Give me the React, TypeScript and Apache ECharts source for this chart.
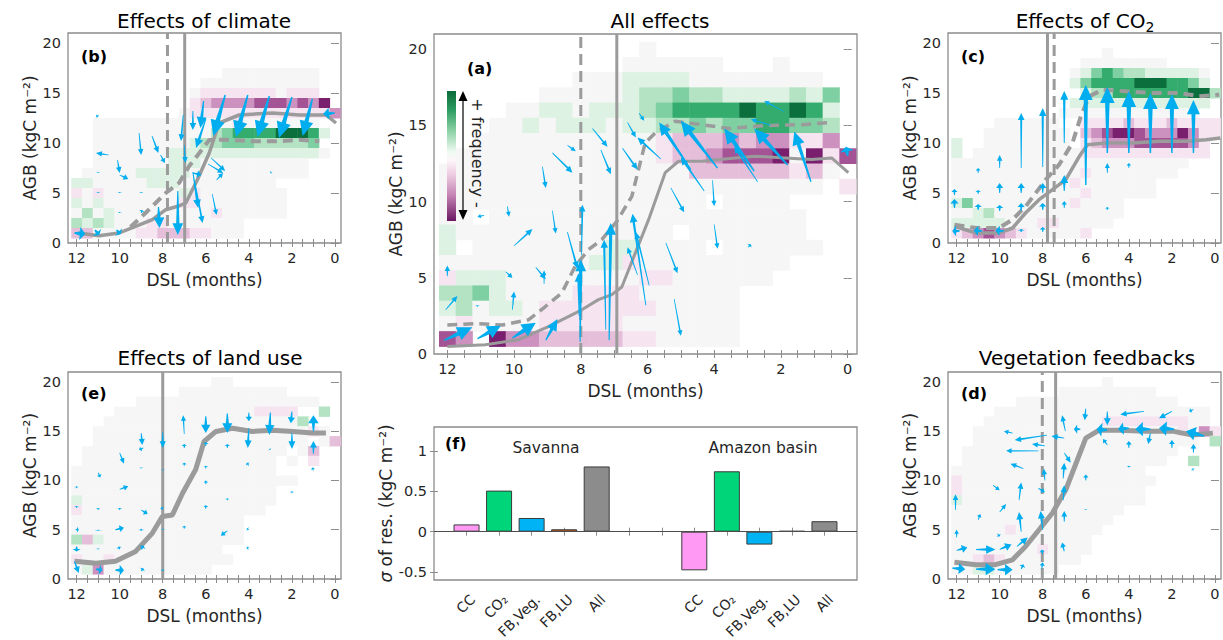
import React, { useEffect, useRef } from 'react';
import * as echarts from 'echarts';

// ---------------- DATA ----------------
// Heat grids: rows from AGB=20 (top) down to AGB=1; columns from DSL=12 (left) to DSL=0 (right) in 0.5 steps.
// '.' = no data, '0' = ~zero, '1'..'5' = + frequency (green), 'a'..'e' = - frequency (purple)
const HEAT_A = [
  '............0............',
  '...........000000...0....',
  '........000111100000000..',
  '......000001223221111213.',
  '....00110111234444544541.',
  '...001011101122323344332.',
  '..00000000000abbbcbccaac.',
  '.000000000000abbcddde0ead',
  '000000000000000bbbbbbab0.',
  '00000000000000000000000.a',
  '0000000000000000.0000....',
  '00.0000000000000000000...',
  '10000000000000.0000000...',
  '1.00000000110000.000000..',
  '00000000011a000000000....',
  'a11100000000aa000000.....',
  '22310000aaaa000000.......',
  '120110aaaaaaa00000.......',
  '0a0000aaaaa0000000.......',
  'dc.eccbbbbbaa00000.......',
];
const HEAT_B = [
  '.........................',
  '.........................',
  '.........................',
  '..............000000000..',
  '............00000000000..',
  '...........0aaaaaaa0aaa..',
  '...........abccccdddcdce.',
  '..........0aaaaaaaaaaaaac',
  '..0000000000000a0000000..',
  '..0000000000023444455541.',
  '..000000000122333222223..',
  '..0000000111111111111110.',
  '..00000001110000000000...',
  '.000001111100000000000...',
  '1100000111000000000......',
  'a0a00000001a00000000.....',
  '1010000000aa00000000.....',
  '0201000000000a000000.....',
  '2121000aa0000000.........',
  'bb0000aabbbaa000.........',
];
const HEAT_C = [
  '.........................',
  '..............0..........',
  '............00000000.....',
  '...........0134322111110.',
  '...........1344445554431.',
  '............1224444444552',
  '...........1111111111111.',
  '..........0000000000000..',
  '....000000..aaaabaaabaaaa',
  '...00000000.bcdeedcccecaa',
  '1..00000000.abcccdddddca.',
  '1.0000000000aaaaaaaaaaaa.',
  '0000000000000000000000...',
  '000000000000a00000000....',
  '00000000000a0000000......',
  '000000000000a000000......',
  '13000000000a0000.........',
  '0012000000000000.........',
  '11111000aa00000..........',
  'abcdcba00000a............',
];
const HEAT_E = [
  '.............00..........',
  '..........0000000000.....',
  '......00000000000000000..',
  '....0000000000000aaaa..2.',
  '...0000000000000000002...',
  '..00000000000000000000a0.',
  '..00000000000000000000.0b',
  '.0000000000000000000.0b..',
  '.000000000000000000.0.a..',
  '0000000000000000000......',
  '000000000000000000000....',
  '0000000000000000000......',
  '1000000000000000000......',
  'a00000000000000000.......',
  '0000000000000000.........',
  '0000000000000000.........',
  '2b10000000000000.........',
  '00000000000000...........',
  'a00a00000000000..........',
  '01c0000000000............',
];
const HEAT_D = [
  '..............0..........',
  '..........000000000......',
  '......000000000000000....',
  '....00000000000000000000.',
  '...00000000000aaaaaaaa00.',
  '..0000000000000000000a0ca',
  '..000000000000000000000.2',
  '.00000000000000000000....',
  '.0000000000000000000..2..',
  '000000000000000000.......',
  'a000000000000000000......',
  'a00000000000000000.......',
  '100000000000000000.......',
  '0000000000000000.........',
  '000000000000000..........',
  '00000a00000000...........',
  '0000000000000............',
  '00000000a0000............',
  '00aba0000000.............',
  '0011000000...............',
];

// Arrows: [DSL tail, AGB tail, DSL head, AGB head, thickness]
const ARROWS_A = [
  [12.1, 0.9, 11.25, 1.75, 3], [11.1, 1.0, 10.4, 1.85, 3], [10.05, 1.05, 9.35, 2.05, 3], [9.05, 0.9, 8.7, 2.3, 2.2],
  [8.02, 0.8, 8.0, 6.2, 2.2], [8.05, 2.5, 8.07, 5.3, 1.4], [7.98, 6.5, 7.95, 9.8, 1.0],
  [7.15, 0.9, 7.1, 8.6, 2.2], [7.25, 1.6, 7.3, 7.5, 1.3],
  [6.05, 3.2, 6.45, 9.2, 1.4], [5.95, 4.5, 6.35, 8.0, 1.0], [6.3, 5.2, 6.6, 7.0, 0.8],
  [5.45, 7.3, 5.1, 5.3, 0.8], [5.2, 3.6, 5.0, 1.2, 0.7], [5.3, 10.9, 4.9, 9.3, 0.8],
  [4.0, 8.5, 3.9, 6.9, 0.7], [4.05, 11.4, 4.0, 9.7, 0.7], [2.98, 7.0, 2.9, 7.2, 0.8],
  [8.85, 13.2, 8.25, 11.9, 1.0], [8.4, 13.7, 8.15, 13.3, 0.6], [9.15, 12.3, 9.05, 10.9, 0.8],
  [7.65, 14.8, 7.2, 13.6, 0.9], [7.4, 13.4, 7.1, 11.8, 0.9], [6.75, 13.5, 6.3, 12.1, 1.0],
  [6.6, 15.2, 6.35, 14.2, 0.8], [6.25, 15.8, 6.1, 15.3, 0.6],
  [4.7, 12.1, 5.65, 15.2, 2.4], [3.9, 12.2, 5.0, 15.3, 3.0], [2.8, 12.0, 3.7, 14.8, 3.0],
  [1.8, 12.4, 2.8, 14.8, 3.0], [1.1, 11.3, 1.6, 14.6, 2.6], [4.3, 10.7, 5.0, 12.9, 1.2],
  [5.6, 12.8, 6.3, 14.2, 1.2], [2.7, 11.3, 3.4, 13.6, 1.0], [1.9, 15.9, 2.5, 16.6, 0.6],
  [2.3, 15.0, 2.9, 15.4, 0.7], [0.0, 13.0, 0.05, 13.6, 3],
  [12.0, 5.1, 12.0, 5.8, 0.8], [12.05, 2.9, 11.7, 3.8, 0.8], [11.1, 3.1, 11.1, 3.2, 0.8],
  [10.0, 7.1, 9.45, 8.2, 1.0], [10.25, 5.4, 10.05, 5.0, 0.8], [10.05, 2.9, 10.0, 4.1, 0.8],
  [9.35, 5.7, 9.05, 4.9, 0.9], [9.1, 4.6, 9.1, 5.5, 0.6], [8.85, 9.4, 8.75, 7.9, 0.7],
  [8.4, 8.0, 8.1, 5.6, 1.1], [10.9, 9.1, 11.1, 9.0, 0.5], [10.2, 9.7, 10.15, 9.0, 0.6],
];
const ARROWS_B = [
  [5.1, 14.8, 5.65, 10.7, 3.2], [4.05, 14.8, 4.6, 10.6, 3.2], [3.05, 14.7, 3.6, 10.6, 3.2],
  [2.0, 14.6, 2.6, 10.5, 3.2], [1.05, 14.4, 1.5, 10.7, 3.0], [0.0, 13.0, 0.55, 12.9, 2.4],
  [6.1, 14.2, 6.25, 11.5, 2.0], [6.0, 12.4, 6.45, 9.5, 1.6], [6.6, 13.2, 6.6, 11.3, 1.1],
  [7.05, 12.8, 7.15, 10.2, 1.0], [7.0, 9.8, 6.95, 8.0, 0.8], [6.6, 7.1, 6.35, 3.5, 1.4],
  [6.5, 6.0, 6.15, 2.0, 1.0], [5.75, 8.5, 5.1, 7.2, 0.8], [5.5, 6.3, 5.2, 7.0, 0.7],
  [5.7, 4.9, 5.5, 2.8, 0.7], [3.0, 7.0, 2.95, 7.1, 0.6], [6.6, 7.0, 6.2, 6.8, 1.2],
  [5.9, 7.9, 5.2, 7.0, 0.7],
  [12.1, 1.0, 11.6, 0.9, 2.8], [11.15, 1.3, 10.95, 0.8, 2.2], [10.15, 1.3, 9.95, 0.9, 2.0],
  [8.2, 3.6, 8.15, 1.5, 2.2], [7.3, 5.2, 7.3, 0.8, 2.2],
  [10.5, 8.8, 11.1, 9.0, 0.8], [10.1, 8.3, 10.0, 7.0, 0.8], [10.0, 6.8, 9.6, 6.4, 0.9],
  [9.1, 11.0, 9.0, 8.8, 0.8], [8.5, 10.7, 8.2, 9.0, 0.9], [8.1, 8.8, 7.9, 8.0, 0.8],
  [11.0, 5.0, 11.0, 5.1, 0.9], [10.0, 5.0, 10.0, 5.1, 0.9], [9.0, 5.0, 9.0, 5.1, 0.9],
  [10.0, 3.0, 10.0, 3.1, 0.8], [9.0, 3.0, 8.95, 3.3, 0.9], [11.0, 7.0, 11.0, 7.1, 0.6],
  [11.1, 12.8, 11.0, 12.6, 0.6],
];
const ARROWS_C = [
  [12.1, 3.5, 12.1, 4.4, 1.6], [12.1, 4.8, 12.1, 5.4, 1.0], [11.85, 1.2, 12.2, 1.2, 2.2],
  [11.0, 3.3, 11.0, 3.9, 1.3], [11.0, 4.9, 11.0, 5.3, 0.8], [11.0, 7.0, 11.0, 7.5, 0.7], [10.8, 1.2, 11.2, 1.25, 2.2],
  [10.0, 3.2, 10.0, 3.8, 1.3], [10.0, 5.0, 10.0, 6.0, 1.2], [10.0, 7.5, 10.0, 8.8, 0.8], [9.8, 1.2, 10.2, 1.25, 2.0],
  [9.0, 1.1, 9.0, 1.4, 1.2], [9.0, 3.2, 9.0, 4.0, 1.3], [9.0, 5.0, 9.0, 6.0, 1.3], [9.0, 7.5, 9.0, 13.0, 1.1],
  [8.0, 1.1, 8.0, 1.6, 1.0], [8.0, 3.3, 8.0, 4.0, 1.3], [8.0, 5.0, 8.0, 6.0, 1.3], [8.0, 7.6, 8.0, 13.5, 1.3],
  [7.0, 3.5, 7.0, 4.2, 0.8], [7.0, 5.2, 7.0, 6.8, 1.5], [7.0, 10.0, 7.0, 15.2, 1.5],
  [6.0, 5.8, 6.0, 15.8, 3.0],
  [5.0, 3.3, 5.0, 3.6, 0.6], [5.0, 9.0, 5.0, 15.6, 3.2], [5.0, 7.0, 5.0, 8.0, 0.7],
  [4.0, 7.5, 4.0, 8.0, 0.6], [4.0, 9.0, 4.0, 15.2, 3.2],
  [3.0, 9.0, 3.0, 15.0, 3.2], [2.0, 9.0, 2.0, 14.9, 3.0], [1.0, 9.0, 1.0, 14.3, 2.8],
];
const ARROWS_E = [
  [8.0, 14.9, 8.0, 13.3, 1.0], [7.0, 14.7, 7.05, 16.6, 0.7], [6.0, 16.5, 6.0, 14.8, 1.8],
  [5.0, 16.8, 5.0, 14.8, 2.0], [4.0, 16.9, 4.0, 16.0, 1.0], [4.0, 15.3, 4.05, 13.3, 1.2],
  [3.0, 16.9, 3.05, 14.6, 1.8], [2.0, 17.0, 2.05, 15.8, 1.3], [2.0, 14.8, 2.0, 13.2, 1.2],
  [1.0, 15.0, 1.0, 16.6, 2.2], [1.0, 12.7, 1.0, 14.0, 1.2], [1.0, 11.0, 1.05, 11.3, 0.6],
  [2.0, 8.7, 2.0, 8.9, 0.5],
  [9.0, 14.8, 8.95, 13.6, 1.0], [8.9, 13.3, 9.1, 13.1, 0.8], [10.0, 12.8, 9.8, 11.7, 0.7],
  [11.0, 10.8, 10.9, 10.3, 0.6], [9.0, 11.2, 9.0, 11.3, 0.7], [8.0, 11.0, 8.0, 11.1, 0.6],
  [7.0, 13.3, 7.0, 13.7, 0.8], [7.0, 11.5, 7.0, 11.8, 0.7], [6.0, 13.5, 6.0, 13.9, 0.8],
  [6.0, 11.2, 6.0, 11.5, 0.6], [5.0, 13.3, 5.0, 13.7, 0.8], [4.0, 11.5, 4.1, 11.8, 0.6],
  [3.0, 13.1, 3.05, 13.2, 0.6], [6.0, 9.6, 6.0, 10.0, 0.6], [5.0, 8.0, 5.0, 8.2, 0.5],
  [10.0, 9.1, 9.6, 9.4, 0.8], [9.0, 7.0, 8.7, 6.6, 0.9], [10.0, 7.0, 10.0, 7.2, 0.8],
  [11.0, 7.0, 11.0, 7.2, 0.6], [12.0, 7.2, 12.0, 7.4, 0.6], [12.0, 9.2, 12.0, 9.4, 0.5],
  [8.0, 7.0, 8.05, 7.3, 0.6], [7.0, 5.1, 7.0, 5.4, 0.6], [6.0, 7.1, 6.0, 7.5, 0.6],
  [5.0, 4.9, 5.3, 4.4, 0.8], [4.0, 5.0, 4.1, 5.1, 0.6], [4.0, 3.2, 4.1, 3.1, 0.6],
  [12.05, 5.0, 11.9, 5.0, 1.0], [11.0, 5.0, 11.0, 4.9, 1.8], [10.2, 5.0, 9.8, 5.2, 1.2],
  [9.0, 5.1, 9.0, 4.9, 1.0], [8.0, 5.0, 8.0, 5.1, 0.8], [12.0, 3.3, 12.0, 2.8, 1.5],
  [11.0, 3.0, 11.0, 3.1, 0.7], [10.0, 3.0, 10.05, 3.3, 0.8], [9.0, 3.0, 8.9, 3.4, 1.2],
  [12.1, 1.8, 11.9, 0.6, 1.0], [11.1, 1.0, 10.8, 0.9, 2.0], [10.2, 0.9, 9.8, 0.9, 2.2],
  [9.0, 0.8, 8.9, 1.1, 1.0], [8.0, 0.8, 8.0, 1.0, 0.6],
];
const ARROWS_D = [
  [12.2, 1.1, 11.6, 1.0, 2.2], [11.1, 1.0, 10.2, 1.0, 2.6], [10.1, 0.95, 9.4, 0.95, 2.4],
  [9.0, 1.0, 8.9, 1.5, 1.0], [12.0, 2.9, 11.5, 3.2, 1.5], [11.1, 3.0, 10.2, 3.0, 1.6],
  [10.0, 3.0, 9.45, 3.5, 1.5], [9.2, 3.3, 8.7, 4.2, 1.2], [12.0, 4.2, 12.0, 5.0, 0.6],
  [12.05, 7.0, 12.05, 8.6, 0.8], [11.0, 6.0, 10.9, 6.6, 0.6], [10.1, 4.6, 10.0, 4.3, 0.7],
  [10.0, 6.8, 9.7, 7.6, 0.6], [9.0, 4.8, 9.1, 6.8, 1.2], [9.1, 8.0, 9.0, 9.8, 0.9],
  [8.0, 5.0, 8.1, 6.9, 1.2], [8.2, 9.2, 7.9, 8.8, 0.8], [8.05, 1.0, 8.0, 1.7, 0.7],
  [8.0, 2.5, 8.05, 3.0, 0.8], [7.9, 10.0, 7.95, 11.2, 0.8], [7.0, 2.8, 7.1, 3.7, 0.9],
  [7.0, 5.8, 7.0, 6.9, 0.9], [7.05, 8.0, 7.0, 9.5, 1.0], [7.05, 10.2, 7.0, 11.8, 1.0],
  [7.0, 12.8, 6.7, 11.8, 0.8], [6.0, 10.0, 6.0, 10.6, 0.8], [6.0, 7.0, 6.0, 7.1, 0.5],
  [7.8, 14.6, 9.3, 14.1, 0.9], [9.4, 14.8, 9.8, 15.0, 0.6], [8.2, 13.0, 9.7, 13.0, 0.7],
  [7.9, 13.5, 8.5, 13.7, 0.8], [8.9, 11.2, 9.5, 11.7, 0.8], [10.3, 9.5, 10.0, 9.0, 0.6],
  [7.0, 14.3, 7.6, 14.5, 0.9], [6.95, 15.0, 7.1, 16.6, 0.8], [6.0, 17.3, 6.05, 16.1, 0.9],
  [6.25, 15.2, 6.55, 15.2, 1.8],
  [0.5, 14.5, 1.35, 15.0, 3.0], [1.9, 15.2, 2.6, 15.3, 3.1], [3.0, 15.2, 3.7, 15.2, 3.1],
  [4.0, 15.3, 4.5, 15.2, 2.6], [5.0, 15.1, 5.5, 15.2, 3.0], [5.0, 17.0, 5.0, 15.6, 1.2],
  [3.3, 17.0, 4.4, 16.7, 0.9], [2.0, 17.0, 2.6, 16.3, 0.9], [1.0, 17.2, 1.2, 17.0, 0.6],
  [5.0, 13.6, 5.2, 14.2, 0.7], [4.0, 13.3, 4.0, 14.0, 0.9], [3.0, 14.8, 3.1, 13.7, 0.9],
  [2.0, 13.3, 2.0, 14.1, 0.9], [1.0, 12.8, 1.0, 13.7, 0.9], [4.0, 11.3, 4.0, 11.5, 0.6],
  [1.0, 11.0, 1.05, 11.2, 0.5],
];

// Mean AGB curves: [DSL, AGB]
const A_SOLID = [[12, 0.5], [10.86, 0.6], [9.86, 0.94], [8.97, 1.8], [7.97, 2.9], [7.47, 3.57], [7.07, 3.9], [6.77, 4.4], [6.37, 6.6], [5.97, 8.8], [5.47, 11.9], [5.07, 12.65], [4.37, 12.65], [3.37, 12.87], [2.78, 12.98], [1.88, 12.87], [1.08, 12.76], [0.48, 12.87], [-0.02, 11.9]];
const A_DASHED = [[12, 1.9], [11.16, 2.0], [10.36, 1.9], [9.56, 2.25], [9.07, 3.1], [8.57, 4.0], [8.17, 5.75], [7.77, 6.85], [7.37, 7.5], [6.92, 8.7], [6.47, 10.35], [6.07, 13.85], [5.77, 14.5], [5.17, 15.27], [4.37, 15.05], [3.57, 14.8], [2.38, 15.0], [1.38, 15.05], [0.48, 15.2]];
const B_SOLID = [[11.9, 1.0], [10.96, 0.73], [10.03, 1.0], [9.26, 1.67], [8.48, 2.33], [7.86, 3.33], [7.3, 3.67], [6.93, 4.0], [6.39, 6.33], [5.84, 9.0], [5.38, 12.0], [4.45, 12.8], [2.9, 13.0], [1.66, 12.8], [0.42, 12.8], [-0.05, 12.0]];
const B_DASHED = [[9.5, 1.6], [8.8, 3.0], [8.33, 4.0], [7.86, 5.0], [7.24, 6.0], [6.78, 7.67], [6.3, 9.0], [5.84, 10.3], [5.07, 10.33], [3.83, 10.17], [2.59, 10.17], [1.66, 10.33], [0.73, 10.17]];
const C_SOLID = [[12.1, 1.67], [11.1, 1.0], [10.03, 1.0], [9.4, 1.5], [8.8, 3.0], [8.17, 4.33], [7.55, 5.33], [6.93, 6.33], [6.3, 8.67], [5.92, 9.83], [5.07, 10.0], [3.83, 10.0], [2.59, 10.17], [1.35, 10.17], [0.42, 10.33], [-0.25, 10.5]];
const C_DASHED = [[12.1, 1.83], [11.1, 1.5], [10.03, 1.5], [9.41, 2.33], [8.79, 3.67], [7.86, 6.33], [7.24, 7.83], [6.62, 10.0], [6.23, 12.67], [5.84, 14.67], [5.22, 15.33], [4.14, 15.17], [2.9, 15.0], [1.66, 15.0], [0.73, 14.67], [-0.2, 14.83]];
const E_SOLID = [[12.1, 1.8], [11.1, 1.6], [10.2, 1.8], [9.26, 2.8], [8.48, 4.66], [8.02, 6.35], [7.55, 6.5], [7.08, 8.7], [6.47, 11.1], [6.08, 13.95], [5.53, 14.97], [4.76, 15.3], [3.83, 14.97], [2.9, 15.1], [1.97, 14.97], [1.04, 14.8], [0.42, 14.8]];
const D_SOLID = [[12.1, 1.7], [11.1, 1.45], [10.2, 1.45], [9.4, 1.95], [8.8, 3.3], [8.17, 5.0], [7.55, 6.7], [6.93, 9.05], [6.39, 12.1], [6.0, 14.3], [5.38, 15.1], [4.45, 15.1], [3.2, 15.0], [1.97, 15.0], [1.04, 14.6], [0.1, 14.8]];

// Vertical reference DSL lines
const A_VLINES = { solid: 6.92, dashed: 8.0 };
const B_VLINES = { solid: 6.98, dashed: 7.78 };
const C_VLINES = { solid: 7.78, dashed: 7.47 };
const E_VLINES = { solid: 8.0, dashed: null as number | null };
const D_VLINES = { solid: 7.4, dashed: 8.02 };

// Panel (f)
const BAR_POS = [1, 2, 3, 4, 5, 8, 9, 10, 11, 12];
const BAR_NAMES = ['CC', 'CO₂', 'FB,Veg.', 'FB,LU', 'All', 'CC', 'CO₂', 'FB,Veg.', 'FB,LU', 'All'];
const BAR_VALUES = [0.09, 0.51, 0.17, 0.03, 0.81, -0.48, 0.75, -0.16, 0.01, 0.13];
const BAR_COLORS = ['#ff99f4', '#00d679', '#00b3f5', '#e2670f', '#8c8c8c'];

// Axis ticks
const X_LABELS = [0, 2, 4, 6, 8, 10, 12];
const X_TICKS = [0, 0.5, 1, 1.5, 2, 2.5, 3, 3.5, 4, 4.5, 5, 5.5, 6, 6.5, 7, 7.5, 8, 8.5, 9, 9.5, 10, 10.5, 11, 11.5, 12];
const Y_TICKS = [0, 5, 10, 15, 20];
const F_X_TICKS = [1, 2, 3, 4, 5, 6, 7, 8, 9, 10, 11, 12];
const F_Y_TICKS = [-0.5, 0, 0.5, 1];

// ---------------- STYLE ----------------
const FONT = 'DejaVu Sans, sans-serif';
const TXT = '#262626';
const AXC = '#8c8c8c';
const LINE_C = '#9b9b9b';
const ARROW_C = '#00adef';
const X_MIN = -0.28, X_MAX = 12.4, Y_MAX = 21;
const F_BOX = [434, 427, 423, 153];
const F_XMAX = 13;

const LEVEL: Record<string, number> = { '0': 0, '1': 1, '2': 2, '3': 3, '4': 4, '5': 5, a: -1, b: -2, c: -3, d: -4, e: -5 };
const HEAT_COLORS: Record<string, string> = {
  '0': '#f6f6f6', '1': '#ddf2e3', '2': '#b4e3c3', '3': '#7ecfa1', '4': '#33ac6d', '5': '#0b6e3d',
  '-1': '#f6e4f0', '-2': '#e5bfda', '-3': '#cc91bf', '-4': '#a45495', '-5': '#7a1e6e',
};

function toCells(rows: string[]) {
  const out: number[][] = [];
  rows.forEach((row, r) => {
    const y = 20 - r;
    for (let c = 0; c < row.length && c < 25; c++) {
      const ch = row[c];
      if (!(ch in LEVEL)) continue;
      out.push([12 - 0.5 * c, y, LEVEL[ch]]);
    }
  });
  return out;
}

const renderHeat = (_p: any, api: any) => {
  const x = api.value(0), y = api.value(1), v = api.value(2);
  const p1 = api.coord([x + 0.25, y + 0.5]);
  const p2 = api.coord([x - 0.25, y - 0.5]);
  return {
    type: 'rect',
    shape: { x: Math.min(p1[0], p2[0]), y: Math.min(p1[1], p2[1]), width: Math.abs(p2[0] - p1[0]) + 0.5, height: Math.abs(p2[1] - p1[1]) + 0.5 },
    style: { fill: HEAT_COLORS[String(v)] || '#fff' },
  };
};

const renderArrow = (_p: any, api: any) => {
  const a = api.coord([api.value(0), api.value(1)]);
  const b = api.coord([api.value(2), api.value(3)]);
  const w = api.value(4);
  const dx = b[0] - a[0], dy = b[1] - a[1];
  const L = Math.max(Math.hypot(dx, dy), 0.001);
  const ux = dx / L, uy = dy / L, nx = -uy, ny = ux;
  const headLen = Math.min(L * 0.5, 4.2 * w + 2.5);
  const headHalf = 1.9 * w + 1.2;
  const s0 = 0.15 * w + 0.25, s1 = 0.6 * w + 0.3;
  const bx = b[0] - ux * headLen, by = b[1] - uy * headLen;
  const pts = [
    [a[0] + nx * s0, a[1] + ny * s0],
    [bx + nx * s1, by + ny * s1],
    [bx + nx * headHalf, by + ny * headHalf],
    [b[0], b[1]],
    [bx - nx * headHalf, by - ny * headHalf],
    [bx - nx * s1, by - ny * s1],
    [a[0] - nx * s0, a[1] - ny * s0],
  ];
  return { type: 'polygon', shape: { points: pts }, style: { fill: ARROW_C } };
};

const PANELS = [
  { box: [434, 34, 423, 320], heat: HEAT_A, arrows: ARROWS_A, solid: A_SOLID, dashed: A_DASHED, v: A_VLINES, lw: 3 },
  { box: [68, 33, 273, 210], heat: HEAT_B, arrows: ARROWS_B, solid: B_SOLID, dashed: B_DASHED, v: B_VLINES, lw: 3.5 },
  { box: [948, 33, 273, 210], heat: HEAT_C, arrows: ARROWS_C, solid: C_SOLID, dashed: C_DASHED, v: C_VLINES, lw: 3.5 },
  { box: [68, 372, 273, 207], heat: HEAT_E, arrows: ARROWS_E, solid: E_SOLID, dashed: null, v: E_VLINES, lw: 5 },
  { box: [948, 372, 273, 207], heat: HEAT_D, arrows: ARROWS_D, solid: D_SOLID, dashed: null, v: D_VLINES, lw: 5 },
];

function tick(values: number[]) {
  return { show: true, inside: true, length: 4, customValues: values, lineStyle: { color: AXC, width: 1 } };
}

function buildOption() {
  const grid: any[] = [], xAxis: any[] = [], yAxis: any[] = [], series: any[] = [];
  const nameStyle = { fontSize: 17, color: TXT, fontFamily: FONT };
  const labStyle = { fontSize: 14.5, color: TXT, fontFamily: FONT, margin: 7 };

  PANELS.forEach((p, gi) => {
    grid.push({ left: p.box[0], top: p.box[1], width: p.box[2], height: p.box[3], show: true, borderColor: AXC, borderWidth: 1.3, backgroundColor: 'transparent' });
    const xi = xAxis.length, yi = yAxis.length;
    xAxis.push({
      type: 'value', gridIndex: gi, min: X_MIN, max: X_MAX, inverse: true, position: 'bottom',
      axisLine: { show: false }, splitLine: { show: false }, axisTick: tick(X_TICKS),
      axisLabel: { ...labStyle, customValues: X_LABELS },
      name: 'DSL (months)', nameLocation: 'middle', nameGap: 28, nameTextStyle: nameStyle,
    });
    xAxis.push({
      type: 'value', gridIndex: gi, min: X_MIN, max: X_MAX, inverse: true, position: 'top',
      axisLine: { show: false }, splitLine: { show: false }, axisTick: tick(X_TICKS), axisLabel: { show: false },
    });
    yAxis.push({
      type: 'value', gridIndex: gi, min: 0, max: Y_MAX, position: 'left',
      axisLine: { show: false }, splitLine: { show: false }, axisTick: tick(Y_TICKS),
      axisLabel: { ...labStyle, customValues: Y_TICKS },
      name: 'AGB (kgC m⁻²)', nameLocation: 'middle', nameGap: 30, nameTextStyle: nameStyle,
    });
    yAxis.push({
      type: 'value', gridIndex: gi, min: 0, max: Y_MAX, position: 'right',
      axisLine: { show: false }, splitLine: { show: false }, axisTick: tick(Y_TICKS), axisLabel: { show: false },
    });
    const ax = { xAxisIndex: xi, yAxisIndex: yi };
    series.push({ type: 'custom', ...ax, renderItem: renderHeat, data: toCells(p.heat), z: 1, clip: true, silent: true });
    series.push({ type: 'line', ...ax, data: p.solid, symbol: 'none', silent: true, z: 2, lineStyle: { color: LINE_C, width: p.lw } });
    if (p.dashed) series.push({ type: 'line', ...ax, data: p.dashed, symbol: 'none', silent: true, z: 2, lineStyle: { color: LINE_C, width: p.lw + 0.5, type: [10, 6] } });
    series.push({ type: 'line', ...ax, data: [[p.v.solid, 0], [p.v.solid, Y_MAX]], symbol: 'none', silent: true, z: 2, lineStyle: { color: LINE_C, width: 3 } });
    if (p.v.dashed !== null) series.push({ type: 'line', ...ax, data: [[p.v.dashed, 0], [p.v.dashed, Y_MAX]], symbol: 'none', silent: true, z: 2, lineStyle: { color: LINE_C, width: 3, type: [11, 6] } });
    series.push({ type: 'custom', ...ax, renderItem: renderArrow, data: p.arrows, z: 3, clip: true, silent: true });
  });

  // panel (f)
  const gf = grid.length;
  grid.push({ left: F_BOX[0], top: F_BOX[1], width: F_BOX[2], height: F_BOX[3], show: true, borderColor: AXC, borderWidth: 1.3, backgroundColor: 'transparent' });
  const fx = xAxis.length, fy = yAxis.length;
  xAxis.push({
    type: 'value', gridIndex: gf, min: 0, max: F_XMAX, position: 'bottom',
    axisLine: { show: false }, splitLine: { show: false }, axisTick: tick(F_X_TICKS), axisLabel: { show: false },
  });
  xAxis.push({ type: 'value', gridIndex: gf, min: 0, max: F_XMAX, position: 'top', axisLine: { show: false }, splitLine: { show: false }, axisTick: tick(F_X_TICKS), axisLabel: { show: false } });
  yAxis.push({
    type: 'value', gridIndex: gf, min: -0.6, max: 1.3, position: 'left',
    axisLine: { show: false }, splitLine: { show: false }, axisTick: tick(F_Y_TICKS),
    axisLabel: { ...labStyle, customValues: F_Y_TICKS },
    name: '{i|σ} of res. (kgC m⁻²)', nameLocation: 'middle', nameGap: 40,
    nameTextStyle: { ...nameStyle, rich: { i: { fontStyle: 'italic', fontSize: 17, fontFamily: FONT, color: TXT } } },
  });
  yAxis.push({ type: 'value', gridIndex: gf, min: -0.6, max: 1.3, position: 'right', axisLine: { show: false }, splitLine: { show: false }, axisTick: tick(F_Y_TICKS), axisLabel: { show: false } });
  series.push({
    type: 'bar', xAxisIndex: fx, yAxisIndex: fy, barWidth: 26, silent: true,
    data: BAR_POS.map((x, i) => ({ value: [x, BAR_VALUES[i]], itemStyle: { color: BAR_COLORS[i % 5], borderColor: '#3a3a3a', borderWidth: 1 } })),
    markLine: { silent: true, symbol: 'none', label: { show: false }, lineStyle: { color: '#4d4d4d', width: 1, type: 'solid' }, data: [{ yAxis: 0 }] },
  });

  const title = (text: string, x: number, y: number) => ({ type: 'text', x, y, z: 100, style: { text, fontSize: 20, fontFamily: FONT, fill: '#000', align: 'center', verticalAlign: 'middle', rich: { sub: { fontSize: 14, fontFamily: FONT, fill: '#000', padding: [12, 0, 0, 0] } } } });
  const tag = (text: string, x: number, y: number) => ({ type: 'text', x, y, z: 100, style: { text, fontSize: 16, fontWeight: 'bold', fontFamily: FONT, fill: '#000', align: 'left', verticalAlign: 'middle' } });
  const plain = (text: string, x: number, y: number) => ({ type: 'text', x, y, z: 100, style: { text, fontSize: 15.5, fontFamily: FONT, fill: TXT, align: 'center', verticalAlign: 'middle' } });

  // rotated category labels of panel (f), placed at the axis positions of the bars
  const fLabels = BAR_POS.map((pos, i) => ({
    type: 'text', z: 100,
    x: F_BOX[0] + (pos / F_XMAX) * F_BOX[2] + 6, y: F_BOX[1] + F_BOX[3] + 17,
    rotation: Math.PI / 4,
    style: { text: BAR_NAMES[i], fontSize: 14, fontFamily: FONT, fill: TXT, align: 'right', verticalAlign: 'middle' },
  }));

  const graphic: any[] = [
    title('Effects of climate', 204, 21),
    title('All effects', 660, 21),
    title('Effects of CO{sub|2}', 1085, 21),
    title('Effects of land use', 210, 358),
    title('Vegetation feedbacks', 1087, 358),
    tag('(b)', 81, 56), tag('(a)', 467, 68), tag('(c)', 961, 56), tag('(e)', 81, 393), tag('(d)', 961, 393), tag('(f)', 445, 443),
    plain('Savanna', 546, 448), plain('Amazon basin', 763, 448),
    ...fLabels,
    {
      type: 'rect', z: 100, shape: { x: 447, y: 91, width: 9, height: 130 },
      style: {
        fill: new echarts.graphic.LinearGradient(0, 0, 0, 1, [
          { offset: 0, color: '#0a6a3a' }, { offset: 0.15, color: '#2e9e62' }, { offset: 0.32, color: '#93d5aa' },
          { offset: 0.47, color: '#f1faf3' }, { offset: 0.53, color: '#fdf6fa' }, { offset: 0.65, color: '#ecc9e0' },
          { offset: 0.8, color: '#c584b5' }, { offset: 1, color: '#6b1862' },
        ]),
      },
    },
    { type: 'line', z: 100, shape: { x1: 463, y1: 100, x2: 463, y2: 211 }, style: { stroke: '#000', lineWidth: 1.2 } },
    { type: 'polygon', z: 100, shape: { points: [[458.5, 101], [467.5, 101], [463, 91]] }, style: { fill: '#000' } },
    { type: 'polygon', z: 100, shape: { points: [[458.5, 210], [467.5, 210], [463, 220]] }, style: { fill: '#000' } },
    { type: 'text', z: 101, x: 477, y: 153, rotation: -Math.PI / 2, style: { text: '+ frequency -', fontSize: 16, fontFamily: FONT, fill: TXT, align: 'center', verticalAlign: 'middle' } },
  ];

  return { animation: false, backgroundColor: '#fff', grid, xAxis, yAxis, series, graphic };
}

export default function App() {
  const ref = useRef<HTMLDivElement>(null);
  useEffect(() => {
    if (!ref.current) return;
    const chart = echarts.init(ref.current, null, { renderer: 'svg' });
    chart.setOption(buildOption() as any);
    return () => chart.dispose();
  }, []);
  return <div ref={ref} style={{ position: 'absolute', left: 0, top: 0, width: 1223, height: 640, background: '#fff' }} />;
}
